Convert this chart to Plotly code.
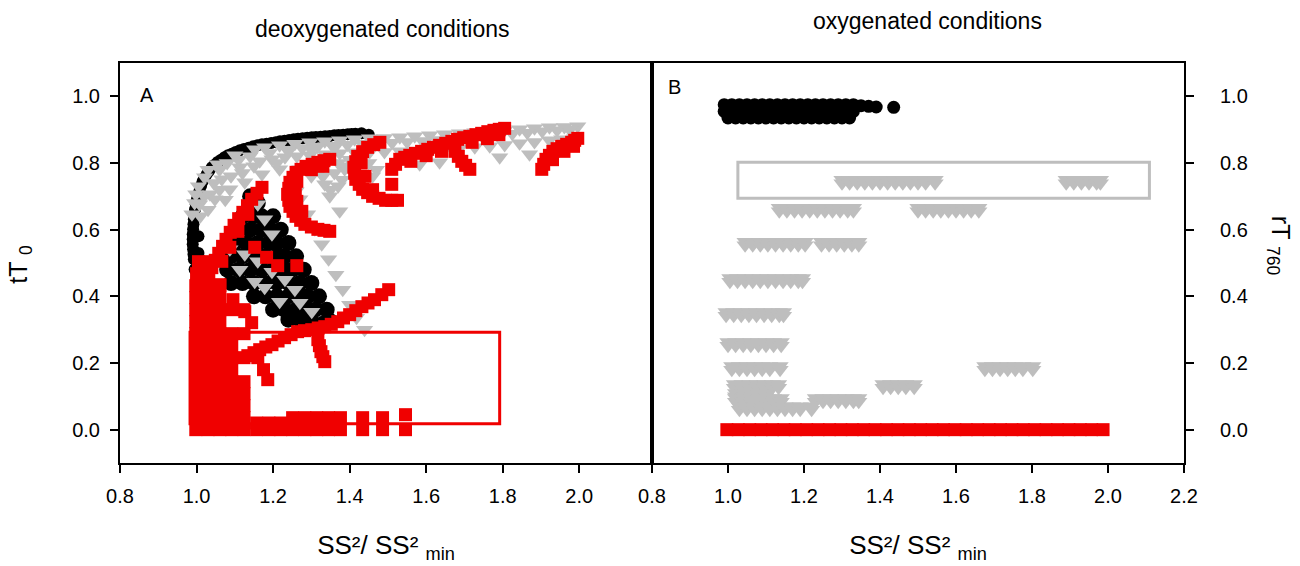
import plotly.graph_objects as go

# ---------------- DATA ----------------
# Panel A  (deoxygenated) : x = SS²/SS²min, y = tT0
black_a_arc = [
    (0.993, 0.511), (0.992, 0.526), (0.991, 0.541), (0.990, 0.556), (0.990, 0.571),
    (0.990, 0.586), (0.991, 0.601), (0.992, 0.616), (0.993, 0.631), (0.994, 0.646),
    (0.996, 0.661), (0.998, 0.676), (1.001, 0.691), (1.004, 0.705), (1.008, 0.718),
    (1.012, 0.732), (1.016, 0.745), (1.021, 0.756), (1.027, 0.767), (1.033, 0.777),
    (1.040, 0.787), (1.047, 0.795), (1.055, 0.803), (1.064, 0.810), (1.073, 0.817),
    (1.082, 0.823), (1.092, 0.828), (1.102, 0.833), (1.113, 0.838), (1.124, 0.842),
    (1.136, 0.846), (1.148, 0.850), (1.160, 0.853), (1.171, 0.856), (1.183, 0.858),
    (1.195, 0.860), (1.207, 0.862), (1.218, 0.865), (1.230, 0.867), (1.242, 0.869),
    (1.254, 0.871), (1.265, 0.873), (1.277, 0.874), (1.289, 0.876), (1.301, 0.877),
    (1.312, 0.878), (1.324, 0.879), (1.336, 0.880), (1.348, 0.881), (1.360, 0.883),
    (1.371, 0.884), (1.383, 0.885), (1.395, 0.886), (1.405, 0.887), (1.415, 0.888),
    (1.431, 0.889), (1.450, 0.885),
    (0.995, 0.481), (1.000, 0.451), (1.008, 0.425), (1.020, 0.410), (1.050, 0.430),
    (1.005, 0.530), (1.005, 0.580),
]
black_a_wedge = [
    (1.140, 0.700), (1.160, 0.680),
    (1.120, 0.640), (1.150, 0.640), (1.170, 0.640), (1.200, 0.640),
    (1.110, 0.600), (1.140, 0.600), (1.170, 0.600), (1.190, 0.600), (1.220, 0.600),
    (1.100, 0.560), (1.130, 0.560), (1.160, 0.560), (1.190, 0.560), (1.210, 0.560),
    (1.240, 0.560),
    (1.090, 0.520), (1.120, 0.520), (1.150, 0.520), (1.180, 0.520), (1.210, 0.520),
    (1.230, 0.520), (1.260, 0.520),
    (1.080, 0.480), (1.110, 0.480), (1.140, 0.480), (1.170, 0.480), (1.200, 0.480),
    (1.230, 0.480), (1.250, 0.480), (1.280, 0.480),
    (1.090, 0.440), (1.120, 0.440), (1.150, 0.440), (1.180, 0.440), (1.210, 0.440),
    (1.240, 0.440), (1.270, 0.440), (1.300, 0.440),
    (1.150, 0.400), (1.180, 0.400), (1.210, 0.400), (1.240, 0.400), (1.270, 0.400),
    (1.290, 0.400), (1.320, 0.400),
    (1.200, 0.360), (1.230, 0.360), (1.260, 0.360), (1.290, 0.360), (1.310, 0.360),
    (1.340, 0.360),
    (1.240, 0.330), (1.270, 0.330), (1.300, 0.325), (1.330, 0.318), (1.350, 0.325),
]
gray_a_band = [
    (0.988, 0.646), (0.998, 0.706), (1.021, 0.757), (1.055, 0.796), (1.100, 0.823),
    (1.152, 0.841), (1.178, 0.847), (1.217, 0.853), (1.257, 0.858), (1.296, 0.862),
    (1.335, 0.865), (1.374, 0.868), (1.413, 0.871), (1.452, 0.874), (1.491, 0.875),
    (1.531, 0.877), (1.570, 0.880), (1.609, 0.883), (1.648, 0.886), (1.687, 0.889),
    (1.727, 0.892), (1.766, 0.895), (1.805, 0.898), (1.844, 0.901), (1.883, 0.904),
    (1.922, 0.907), (1.961, 0.908), (1.996, 0.910),
    (1.237, 0.840), (1.276, 0.845), (1.316, 0.849), (1.355, 0.852), (1.394, 0.855),
    (1.433, 0.858), (1.472, 0.859), (1.511, 0.861), (1.550, 0.863), (1.590, 0.866),
    (1.629, 0.869), (1.668, 0.873), (1.707, 0.876), (1.746, 0.880), (1.786, 0.884),
    (1.825, 0.888), (1.864, 0.891), (1.903, 0.895), (1.942, 0.898), (1.975, 0.900),
    (1.035, 0.706), (1.066, 0.751), (1.113, 0.787), (1.165, 0.805), (1.197, 0.811),
    (1.231, 0.817), (1.262, 0.820), (1.296, 0.823), (1.335, 0.826), (1.374, 0.829),
    (1.413, 0.832), (1.452, 0.832), (1.491, 0.833), (1.531, 0.835), (1.570, 0.836),
    (1.609, 0.838), (1.648, 0.841), (1.687, 0.844), (1.727, 0.847), (1.766, 0.850),
    (1.805, 0.854), (1.844, 0.859), (1.883, 0.863), (1.922, 0.868), (1.954, 0.871),
    (1.988, 0.874),
    (1.270, 0.781), (1.322, 0.775), (1.387, 0.781), (1.583, 0.796), (1.635, 0.802),
    (1.792, 0.817), (1.870, 0.826),
    (1.008, 0.676), (1.048, 0.691), (1.087, 0.721), (1.126, 0.742), (1.171, 0.766),
    (1.217, 0.781),
    (0.995, 0.680), (1.005, 0.730), (1.020, 0.700), (1.030, 0.780), (1.045, 0.740),
    (1.060, 0.780), (1.080, 0.800), (1.090, 0.760), (1.110, 0.810), (1.120, 0.770),
    (1.140, 0.820), (1.150, 0.790), (1.190, 0.830), (1.210, 0.800), (1.240, 0.835),
    (1.300, 0.840), (1.330, 0.800), (1.360, 0.845), (1.370, 0.800), (1.400, 0.810),
    (1.300, 0.760), (1.330, 0.760), (1.360, 0.770), (1.380, 0.750), (1.350, 0.720),
    (1.370, 0.730), (1.390, 0.790), (1.450, 0.800), (1.470, 0.780), (1.460, 0.760),
    (1.010, 0.640), (1.030, 0.660), (1.060, 0.720), (1.075, 0.690),
]
gray_a_desc = [
    (1.260, 0.715), (1.270, 0.691), (1.290, 0.646), (1.309, 0.601), (1.327, 0.556),
    (1.345, 0.511), (1.364, 0.465), (1.382, 0.420), (1.400, 0.375), (1.418, 0.336),
    (1.439, 0.300),
    (1.335, 0.736), (1.348, 0.700), (1.374, 0.655),
]
gray_a_inner = [
    (1.160, 0.676), (1.178, 0.631), (1.197, 0.586),
    (1.113, 0.480), (1.152, 0.444), (1.178, 0.426), (1.217, 0.384), (1.270, 0.381),
    (1.301, 0.354), (1.087, 0.541), (1.126, 0.526), (1.160, 0.505), (1.197, 0.474),
    (1.231, 0.450), (1.257, 0.420),
]
red_a_fill = [
    (0.998, 0.000), (1.030, 0.000), (1.061, 0.000), (1.092, 0.000), (1.124, 0.000),
    (0.998, 0.036), (1.030, 0.036), (1.061, 0.036), (1.092, 0.036), (1.124, 0.036),
    (0.998, 0.072), (1.030, 0.072), (1.061, 0.072), (1.092, 0.072), (1.124, 0.072),
    (0.998, 0.108), (1.030, 0.108), (1.061, 0.108), (1.092, 0.108), (1.124, 0.108),
    (0.998, 0.144), (1.030, 0.144), (1.061, 0.144), (1.092, 0.144), (1.124, 0.144),
    (0.998, 0.180), (1.030, 0.180), (1.061, 0.180), (1.092, 0.180),
    (0.998, 0.216), (1.030, 0.216), (1.061, 0.216), (1.092, 0.216), (1.124, 0.216),
    (0.998, 0.252), (1.030, 0.252), (1.061, 0.252), (1.092, 0.252),
    (0.998, 0.288), (1.030, 0.288), (1.061, 0.288), (1.092, 0.288), (1.124, 0.288),
    (0.998, 0.324), (1.030, 0.324), (1.061, 0.324),
    (0.998, 0.360), (1.030, 0.360), (1.061, 0.360), (1.092, 0.360), (1.124, 0.360),
    (0.998, 0.396), (1.030, 0.396), (1.061, 0.396),
    (0.998, 0.432), (1.030, 0.432), (1.061, 0.432),
    (1.000, 0.468), (1.030, 0.468), (1.005, 0.504), (1.035, 0.504),
    (1.160, 0.216), (1.186, 0.150), (1.175, 0.180),
    (1.095, 0.390), (1.126, 0.354), (1.144, 0.321),
]
red_a_floor = [
    (1.157, 0.000), (1.189, 0.000), (1.220, 0.000), (1.251, 0.000), (1.283, 0.000),
    (1.314, 0.000), (1.345, 0.000), (1.376, 0.000), (1.434, 0.000), (1.486, 0.000),
    (1.546, 0.000),
    (1.157, 0.020), (1.189, 0.020), (1.220, 0.020), (1.251, 0.036), (1.283, 0.036),
    (1.314, 0.036), (1.345, 0.036), (1.376, 0.036), (1.434, 0.036), (1.486, 0.036),
    (1.546, 0.045),
]
red_a_arcs = [
    # arc a
    (1.171, 0.727), (1.158, 0.709), (1.144, 0.691), (1.133, 0.672), (1.121, 0.652),
    (1.110, 0.633), (1.098, 0.613), (1.088, 0.592), (1.077, 0.571), (1.068, 0.550),
    (1.058, 0.529), (1.049, 0.508), (1.040, 0.486), (1.032, 0.465), (1.024, 0.444),
    (1.134, 0.646), (1.108, 0.595), (1.087, 0.547), (1.066, 0.505),
    (1.152, 0.547), (1.183, 0.517), (1.212, 0.492), (1.262, 0.492),
    (1.030, 0.480), (1.061, 0.435),
    # arc b
    (1.348, 0.811), (1.333, 0.807), (1.317, 0.802), (1.302, 0.796), (1.286, 0.790),
    (1.273, 0.781), (1.260, 0.772), (1.252, 0.757), (1.244, 0.742), (1.241, 0.724),
    (1.238, 0.706), (1.241, 0.688), (1.244, 0.670), (1.252, 0.655), (1.260, 0.640),
    (1.272, 0.628), (1.283, 0.616), (1.300, 0.608), (1.317, 0.601), (1.333, 0.598),
    (1.348, 0.595),
    (1.262, 0.745), (1.258, 0.715), (1.262, 0.685), (1.275, 0.655), (1.330, 0.790),
    (1.300, 0.780),
    # arc c
    (1.479, 0.862), (1.463, 0.855), (1.447, 0.847), (1.434, 0.834), (1.421, 0.820),
    (1.416, 0.804), (1.411, 0.787), (1.413, 0.769), (1.416, 0.751), (1.425, 0.736),
    (1.434, 0.721), (1.447, 0.711), (1.460, 0.700), (1.477, 0.694), (1.494, 0.688),
    (1.510, 0.688), (1.525, 0.688), (1.510, 0.736),
    (1.430, 0.800), (1.440, 0.760), (1.460, 0.720),
    # arc d
    (1.510, 0.781), (1.520, 0.796), (1.531, 0.811), (1.544, 0.817), (1.557, 0.823),
    (1.572, 0.829), (1.588, 0.835), (1.604, 0.841), (1.619, 0.847), (1.635, 0.853),
    (1.651, 0.859), (1.667, 0.865), (1.682, 0.871), (1.698, 0.876), (1.714, 0.880),
    (1.730, 0.885), (1.745, 0.889), (1.761, 0.894), (1.777, 0.898), (1.791, 0.901),
    (1.805, 0.904),
    (1.560, 0.805), (1.600, 0.822), (1.640, 0.835), (1.720, 0.862), (1.760, 0.873),
    (1.790, 0.885),
    (1.675, 0.835), (1.684, 0.820), (1.693, 0.805), (1.703, 0.793), (1.714, 0.781),
    # arc e
    (1.902, 0.781), (1.907, 0.796), (1.913, 0.811), (1.922, 0.823), (1.931, 0.835),
    (1.942, 0.843), (1.954, 0.850), (1.967, 0.856), (1.980, 0.862), (1.988, 0.868),
    (1.996, 0.874), (1.930, 0.810), (1.960, 0.835), (1.985, 0.850),
]
red_a_diag = [
    (1.502, 0.420), (1.484, 0.405), (1.465, 0.390), (1.448, 0.380), (1.432, 0.369),
    (1.416, 0.357), (1.400, 0.345), (1.384, 0.335), (1.369, 0.324), (1.352, 0.316),
    (1.335, 0.309), (1.318, 0.305), (1.301, 0.300), (1.282, 0.297), (1.264, 0.294),
    (1.247, 0.285), (1.230, 0.276), (1.213, 0.266), (1.197, 0.255), (1.181, 0.248),
    (1.165, 0.240), (1.150, 0.231), (1.134, 0.222),
    (1.317, 0.270), (1.321, 0.252), (1.325, 0.234), (1.330, 0.219), (1.335, 0.204),
]

# Panel B (oxygenated): x = SS²/SS²min, y = rT760
black_b = [
    (0.99, 0.975), (1.01, 0.975), (1.03, 0.975), (1.05, 0.975), (1.07, 0.975),
    (1.09, 0.975), (1.11, 0.975), (1.13, 0.975), (1.15, 0.975), (1.17, 0.975),
    (1.19, 0.975), (1.21, 0.975), (1.23, 0.975), (1.25, 0.975), (1.27, 0.975),
    (1.29, 0.975), (1.31, 0.975), (1.33, 0.975), (1.35, 0.972), (1.37, 0.970),
    (1.39, 0.968), (1.436, 0.967),
    (0.99, 0.955), (1.01, 0.955), (1.03, 0.955), (1.05, 0.955), (1.07, 0.955),
    (1.09, 0.955), (1.11, 0.955), (1.13, 0.955), (1.15, 0.955), (1.17, 0.955),
    (1.19, 0.955), (1.21, 0.955), (1.23, 0.955), (1.25, 0.955), (1.27, 0.955),
    (1.29, 0.955), (1.31, 0.955), (1.33, 0.955),
    (1.00, 0.935), (1.02, 0.935), (1.04, 0.935), (1.06, 0.935), (1.08, 0.935),
    (1.10, 0.935), (1.12, 0.935), (1.14, 0.935), (1.16, 0.935), (1.18, 0.935),
    (1.20, 0.935), (1.22, 0.935), (1.24, 0.935), (1.26, 0.935), (1.28, 0.935),
    (1.30, 0.935), (1.32, 0.935),
]
# each row: (y of upper sub-row, y of lower sub-row, x values)
gray_b_rows = [
    (0.750, 0.739, [1.30, 1.32, 1.34, 1.36, 1.38, 1.40, 1.42, 1.44, 1.46, 1.48, 1.50, 1.52,
                    1.545, 1.89, 1.91, 1.93, 1.95, 1.97, 1.98]),
    (0.666, 0.655, [1.135, 1.155, 1.175, 1.195, 1.215, 1.235, 1.255, 1.275, 1.295, 1.315,
                    1.33, 1.50, 1.52, 1.54, 1.56, 1.58, 1.60, 1.62, 1.64, 1.66]),
    (0.564, 0.553, [1.045, 1.065, 1.085, 1.105, 1.125, 1.145, 1.165, 1.185, 1.203,
                    1.246, 1.266, 1.286, 1.306, 1.326, 1.344]),
    (0.455, 0.444, [1.005, 1.025, 1.045, 1.065, 1.085, 1.105, 1.125, 1.145, 1.165, 1.185,
                    1.196]),
    (0.353, 0.342, [0.995, 1.015, 1.035, 1.055, 1.075, 1.095, 1.115, 1.135, 1.146]),
    (0.263, 0.252, [1.000, 1.020, 1.040, 1.060, 1.080, 1.100, 1.120, 1.140]),
    (0.191, 0.180, [1.010, 1.030, 1.050, 1.070, 1.090, 1.110, 1.137,
                    1.676, 1.696, 1.716, 1.736, 1.756, 1.776, 1.802]),
    (0.137, 0.126, [1.017, 1.037, 1.057, 1.077, 1.097, 1.117, 1.133,
                    1.408, 1.428, 1.448, 1.468, 1.490]),
    (0.110, 0.100, [1.020, 1.040, 1.060, 1.080, 1.100]),
    (0.095, 0.084, [1.020, 1.040, 1.060, 1.080, 1.100, 1.120, 1.140,
                    1.230, 1.250, 1.270, 1.290, 1.310, 1.330, 1.344]),
    (0.070, 0.060, [1.030, 1.050, 1.070, 1.090, 1.110, 1.130, 1.150, 1.170, 1.190, 1.220]),
]
red_b_x = [0.997, 1.027, 1.057, 1.087, 1.117, 1.147, 1.177, 1.207, 1.237, 1.267,
           1.297, 1.327, 1.357, 1.387, 1.417, 1.447, 1.477, 1.507, 1.537, 1.567,
           1.597, 1.627, 1.657, 1.687, 1.717, 1.747, 1.777, 1.807, 1.837, 1.867,
           1.897, 1.927, 1.957, 1.987]
red_b_y = [0.0] * len(red_b_x)

# Highlight boxes (data units)
red_box_a = dict(x0=0.983, x1=1.792, y0=0.018, y1=0.292)
gray_box_b = dict(x0=1.026, x1=2.109, y0=0.694, y1=0.802)

x_ticks_a = [0.8, 1.0, 1.2, 1.4, 1.6, 1.8, 2.0]
x_ticks_b = [0.8, 1.0, 1.2, 1.4, 1.6, 1.8, 2.0, 2.2]
y_ticks = [0.0, 0.2, 0.4, 0.6, 0.8, 1.0]

# ---------------- FIGURE ----------------
BLACK = "#000000"
GRAY = "#BEBEBE"
RED = "#F00000"
FONT = "Liberation Sans"


def unzip(pts):
    return [p[0] for p in pts], [p[1] for p in pts]


fig = go.Figure()


def add(xs, ys, color, symbol, size, xa="x", ya="y"):
    fig.add_trace(go.Scatter(x=xs, y=ys, mode="markers", xaxis=xa, yaxis=ya,
                             marker=dict(color=color, symbol=symbol, size=size,
                                         line=dict(width=0)),
                             showlegend=False, hoverinfo="skip"))


# Panel A
add(*unzip(black_a_arc), BLACK, "circle", 12)
add(*unzip(black_a_wedge), BLACK, "circle", 16)
add(*unzip(gray_a_band), GRAY, "triangle-down", 15)
add(*unzip(gray_a_desc), GRAY, "triangle-down", 15)
add(*unzip(gray_a_inner), GRAY, "triangle-down", 15)
add(*unzip(red_a_fill), RED, "square", 13)
add(*unzip(red_a_floor), RED, "square", 13)
add(*unzip(red_a_arcs), RED, "square", 13)
add(*unzip(red_a_diag), RED, "square", 13)

# Panel B
add(*unzip(black_b), BLACK, "circle", 13, "x2", "y2")
gbx, gby = [], []
for y_top, y_bot, xs in gray_b_rows:
    gbx += xs + xs
    gby += [y_top] * len(xs) + [y_bot] * len(xs)
add(gbx, gby, GRAY, "triangle-down", 15, "x2", "y2")
add(red_b_x, red_b_y, RED, "square", 13, "x2", "y2")

axis_common = dict(showline=True, linecolor=BLACK, linewidth=2, mirror=True,
                   ticks="outside", ticklen=8, tickwidth=2, tickcolor=BLACK,
                   showgrid=False, zeroline=False,
                   tickfont=dict(family=FONT, size=20, color=BLACK))

xtitle = dict(text="SS²/ SS² <sub>min</sub>", font=dict(family=FONT, size=26, color=BLACK),
              standoff=30)

fig.update_layout(
    width=1300, height=566,
    margin=dict(l=120, r=116, t=63, b=103),
    plot_bgcolor="white", paper_bgcolor="white",
    font=dict(family=FONT, color=BLACK),
    xaxis=dict(domain=[0, 0.5], range=[0.8, 2.19], tickvals=x_ticks_a,
               ticktext=[f"{v:.1f}" for v in x_ticks_a], anchor="y",
               title=xtitle, ticklabelstandoff=6, **axis_common),
    yaxis=dict(range=[-0.1, 1.1], tickvals=y_ticks,
               ticktext=[f"{v:.1f}" for v in y_ticks], anchor="x",
               ticklabelstandoff=6, **axis_common),
    xaxis2=dict(domain=[0.5, 1], range=[0.8, 2.2], tickvals=x_ticks_b,
                ticktext=[f"{v:.1f}" for v in x_ticks_b], anchor="y2",
                title=xtitle, ticklabelstandoff=6, **axis_common),
    yaxis2=dict(range=[-0.1, 1.1], tickvals=y_ticks,
                ticktext=[f"{v:.1f}" for v in y_ticks], anchor="x2", side="right",
                ticklabelstandoff=22, **axis_common),
)

fig.add_shape(type="rect", xref="x", yref="y", line=dict(color=RED, width=3),
              fillcolor="rgba(0,0,0,0)", **red_box_a)
fig.add_shape(type="rect", xref="x2", yref="y2", line=dict(color=GRAY, width=3),
              fillcolor="rgba(0,0,0,0)", **gray_box_b)


def note(text, x, y, size, angle=0):
    fig.add_annotation(text=text, xref="paper", yref="paper", x=x, y=y,
                       xanchor="center", yanchor="middle", textangle=angle,
                       showarrow=False, font=dict(family=FONT, size=size, color=BLACK))


note("deoxygenated conditions", 0.246, 1.086, 23)
note("oxygenated conditions", 0.759, 1.104, 23)
note("A", 0.0254, 0.919, 20)
note("B", 0.5207, 0.941, 20)
note("tT <sub>0</sub>", -0.094, 0.498, 25, -90)
note("rT <sub>760</sub>", 1.090, 0.5435, 25, 90)

fig.write_html("out.html")
